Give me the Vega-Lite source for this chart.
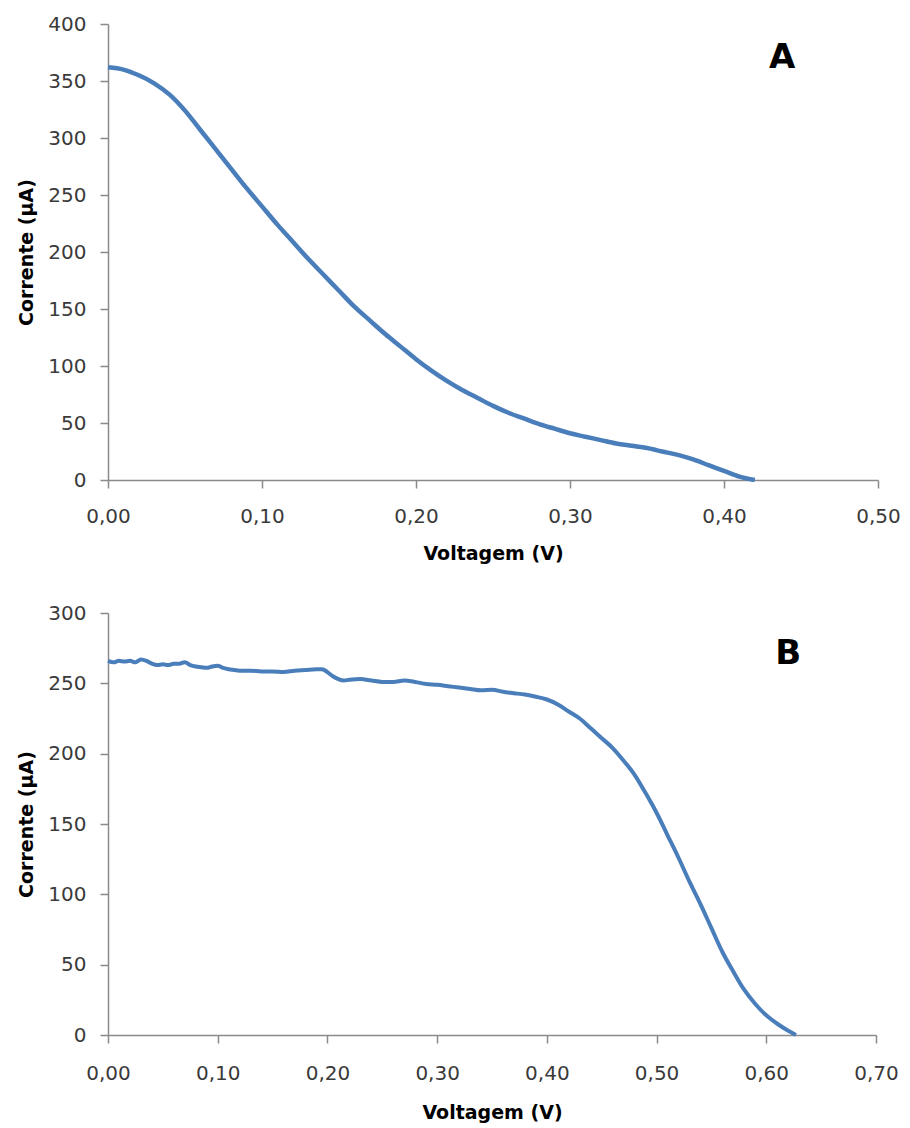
{
  "$schema": "https://vega.github.io/schema/vega-lite/v6.json",
  "padding": {"left": 17, "top": 14, "right": 5, "bottom": 5},
  "spacing": 40,
  "background": "white",
  "config": {
    "view": {"stroke": null},
    "axis": {
      "grid": false,
      "domainColor": "#8a8a8a",
      "domainWidth": 1.5,
      "tickColor": "#8a8a8a",
      "tickWidth": 1.5,
      "tickSize": 8,
      "labelFont": "DejaVu Sans",
      "labelFontSize": 20,
      "labelColor": "#3a3a3a",
      "labelFlush": false,
      "labelOverlap": false,
      "titleFont": "DejaVu Sans",
      "titleFontSize": 19,
      "titleFontWeight": "bold",
      "titleColor": "#000000"
    }
  },
  "vconcat": [
    {
      "width": 770,
      "height": 456,
      "layer": [
        {
          "data": {"values": [
            {"V": 0.00, "I": 362}, {"V": 0.01, "I": 360}, {"V": 0.02, "I": 355}, {"V": 0.03, "I": 348},
            {"V": 0.04, "I": 338}, {"V": 0.05, "I": 324}, {"V": 0.06, "I": 307}, {"V": 0.07, "I": 290},
            {"V": 0.08, "I": 273}, {"V": 0.09, "I": 256}, {"V": 0.10, "I": 240}, {"V": 0.11, "I": 224},
            {"V": 0.12, "I": 209}, {"V": 0.13, "I": 194}, {"V": 0.14, "I": 180}, {"V": 0.15, "I": 166},
            {"V": 0.16, "I": 152}, {"V": 0.17, "I": 140}, {"V": 0.18, "I": 128}, {"V": 0.19, "I": 117},
            {"V": 0.20, "I": 106}, {"V": 0.21, "I": 96}, {"V": 0.22, "I": 87}, {"V": 0.23, "I": 79},
            {"V": 0.24, "I": 72}, {"V": 0.25, "I": 65}, {"V": 0.26, "I": 59}, {"V": 0.27, "I": 54},
            {"V": 0.28, "I": 49}, {"V": 0.29, "I": 45}, {"V": 0.30, "I": 41}, {"V": 0.31, "I": 38},
            {"V": 0.32, "I": 35}, {"V": 0.33, "I": 32}, {"V": 0.34, "I": 30}, {"V": 0.35, "I": 28},
            {"V": 0.36, "I": 25}, {"V": 0.37, "I": 22}, {"V": 0.38, "I": 18}, {"V": 0.39, "I": 13},
            {"V": 0.40, "I": 8}, {"V": 0.41, "I": 3}, {"V": 0.42, "I": 0}
          ]},
          "mark": {"type": "line", "color": "#4a7ebb", "strokeWidth": 4.5, "interpolate": "monotone"},
          "encoding": {
            "x": {
              "field": "V", "type": "quantitative",
              "scale": {"domain": [0, 0.5], "nice": false, "zero": false},
              "axis": {
                "values": [0, 0.1, 0.2, 0.3, 0.4, 0.5],
                "labelExpr": "replace(format(datum.value, '.2f'), '.', ',')",
                "title": "Voltagem (V)",
                "labelPadding": 18,
                "titlePadding": 18
              }
            },
            "y": {
              "field": "I", "type": "quantitative",
              "scale": {"domain": [0, 400], "nice": false},
              "axis": {
                "values": [0, 50, 100, 150, 200, 250, 300, 350, 400],
                "title": "Corrente (µA)",
                "labelPadding": 14,
                "titlePadding": 11
              }
            }
          }
        },
        {
          "data": {"values": [{"label": "A", "V": 0.4377, "I": 370}]},
          "mark": {"type": "text", "font": "DejaVu Sans", "fontSize": 34, "fontWeight": "bold", "color": "#000000", "align": "center", "baseline": "middle"},
          "encoding": {
            "x": {"field": "V", "type": "quantitative"},
            "y": {"field": "I", "type": "quantitative"},
            "text": {"field": "label"}
          }
        }
      ]
    },
    {
      "width": 768,
      "height": 422,
      "layer": [
        {
          "data": {"values": [
            {"V": 0.000, "I": 266}, {"V": 0.005, "I": 265}, {"V": 0.010, "I": 266}, {"V": 0.015, "I": 265.5},
            {"V": 0.020, "I": 266}, {"V": 0.025, "I": 265}, {"V": 0.030, "I": 267}, {"V": 0.035, "I": 266},
            {"V": 0.040, "I": 264}, {"V": 0.045, "I": 263}, {"V": 0.050, "I": 263.5}, {"V": 0.055, "I": 263},
            {"V": 0.060, "I": 264}, {"V": 0.065, "I": 264}, {"V": 0.070, "I": 265}, {"V": 0.075, "I": 263},
            {"V": 0.080, "I": 262}, {"V": 0.085, "I": 261.5}, {"V": 0.090, "I": 261}, {"V": 0.095, "I": 262},
            {"V": 0.100, "I": 262.5}, {"V": 0.105, "I": 261}, {"V": 0.110, "I": 260}, {"V": 0.115, "I": 259.5},
            {"V": 0.120, "I": 259}, {"V": 0.130, "I": 259}, {"V": 0.140, "I": 258.5}, {"V": 0.150, "I": 258.5},
            {"V": 0.160, "I": 258}, {"V": 0.170, "I": 259}, {"V": 0.180, "I": 259.5}, {"V": 0.190, "I": 260},
            {"V": 0.195, "I": 260}, {"V": 0.200, "I": 258}, {"V": 0.205, "I": 255}, {"V": 0.210, "I": 253},
            {"V": 0.215, "I": 252}, {"V": 0.220, "I": 252.5}, {"V": 0.230, "I": 253}, {"V": 0.240, "I": 252},
            {"V": 0.250, "I": 251}, {"V": 0.260, "I": 251}, {"V": 0.270, "I": 252}, {"V": 0.280, "I": 251},
            {"V": 0.290, "I": 249.5}, {"V": 0.300, "I": 249}, {"V": 0.310, "I": 248}, {"V": 0.320, "I": 247},
            {"V": 0.330, "I": 246}, {"V": 0.340, "I": 245}, {"V": 0.350, "I": 245.5}, {"V": 0.360, "I": 244},
            {"V": 0.370, "I": 243}, {"V": 0.380, "I": 242}, {"V": 0.390, "I": 240.5}, {"V": 0.400, "I": 238.5},
            {"V": 0.410, "I": 235}, {"V": 0.420, "I": 230}, {"V": 0.430, "I": 225}, {"V": 0.440, "I": 218},
            {"V": 0.450, "I": 211}, {"V": 0.460, "I": 204}, {"V": 0.470, "I": 195}, {"V": 0.480, "I": 185},
            {"V": 0.490, "I": 172}, {"V": 0.500, "I": 158}, {"V": 0.510, "I": 142}, {"V": 0.520, "I": 126},
            {"V": 0.530, "I": 109}, {"V": 0.540, "I": 93}, {"V": 0.550, "I": 76}, {"V": 0.560, "I": 59},
            {"V": 0.570, "I": 45}, {"V": 0.580, "I": 32}, {"V": 0.590, "I": 22}, {"V": 0.600, "I": 14},
            {"V": 0.610, "I": 8}, {"V": 0.620, "I": 3}, {"V": 0.627, "I": 0}
          ]},
          "mark": {"type": "line", "color": "#4a7ebb", "strokeWidth": 4, "interpolate": "monotone"},
          "encoding": {
            "x": {
              "field": "V", "type": "quantitative",
              "scale": {"domain": [0, 0.7], "nice": false, "zero": false},
              "axis": {
                "values": [0, 0.1, 0.2, 0.3, 0.4, 0.5, 0.6, 0.7],
                "labelExpr": "replace(format(datum.value, '.2f'), '.', ',')",
                "title": "Voltagem (V)",
                "labelPadding": 20,
                "titlePadding": 20
              }
            },
            "y": {
              "field": "I", "type": "quantitative",
              "scale": {"domain": [0, 300], "nice": false},
              "axis": {
                "values": [0, 50, 100, 150, 200, 250, 300],
                "title": "Corrente (µA)",
                "labelPadding": 14,
                "titlePadding": 11
              }
            }
          }
        },
        {
          "data": {"values": [{"label": "B", "V": 0.62, "I": 271}]},
          "mark": {"type": "text", "font": "DejaVu Sans", "fontSize": 34, "fontWeight": "bold", "color": "#000000", "align": "center", "baseline": "middle"},
          "encoding": {
            "x": {"field": "V", "type": "quantitative"},
            "y": {"field": "I", "type": "quantitative"},
            "text": {"field": "label"}
          }
        }
      ]
    }
  ]
}
